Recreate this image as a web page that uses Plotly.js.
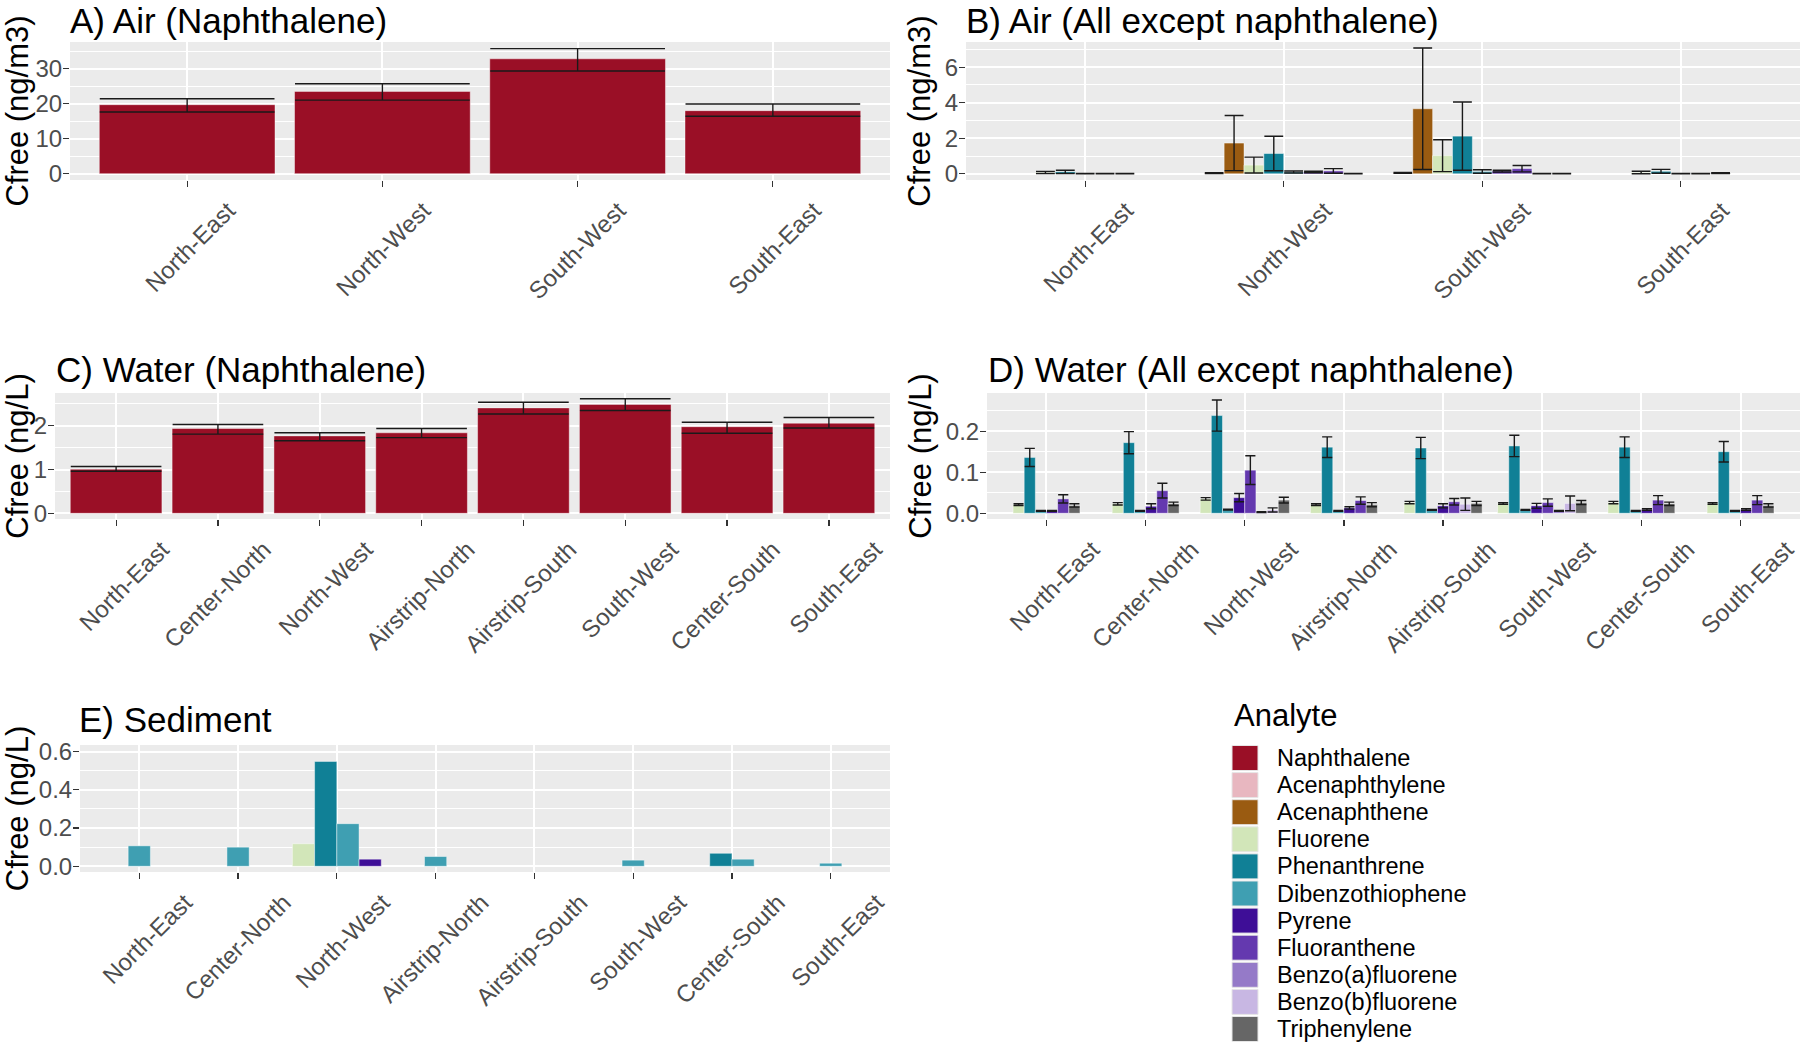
<!DOCTYPE html>
<html>
<head>
<meta charset="utf-8">
<script src="https://cdn.plot.ly/plotly-3.0.1.min.js"></script>
<style>html,body{margin:0;padding:0;background:#fff}#chart{width:1800px;height:1042px}</style>
</head>
<body>
<div id="chart"></div>
<script>
// ---------------- DATA ----------------
const analytes = ["Naphthalene","Acenaphthylene","Acenaphthene","Fluorene","Phenanthrene","Dibenzothiophene","Pyrene","Fluoranthene","Benzo(a)fluorene","Benzo(b)fluorene","Triphenylene"];
const analyteColors = ["#9A0F26","#E8B7C0","#9A5B11","#D2E6B9","#108096","#3F9FB2","#3E0E97","#6439AF","#957AC8","#C8B7E3","#666666"];

const airSites = ["North-East","North-West","South-West","South-East"];
const waterSites = ["North-East","Center-North","North-West","Airstrip-North","Airstrip-South","South-West","Center-South","South-East"];

// A) Air, naphthalene (ng/m3)
const airNaphthalene      = [19.7, 23.5, 32.8, 18.0];
const airNaphthaleneUp    = [1.7, 2.2, 2.9, 1.9];
const airNaphthaleneDown  = [2.1, 2.5, 3.5, 1.6];

// B) Air, all except naphthalene (ng/m3); null = not present
const airAcenaphthylene      = [null, 0.04, 0.05, null];
const airAcenaphthyleneErr   = [null, 0.02, 0.02, null];
const airAcenaphthene        = [null, 1.73, 3.66, null];
const airAcenaphtheneErr     = [null, 1.55, 3.42, null];
const airFluorene            = [0.07, 0.49, 1.02, 0.07];
const airFluoreneErr         = [0.06, 0.45, 0.90, 0.07];
const airPhenanthrene        = [0.11, 1.14, 2.12, 0.14];
const airPhenanthreneErr     = [0.09, 0.97, 1.92, 0.11];
const airDibenzothiophene    = [0.01, 0.10, 0.13, 0.01];
const airDibenzothiopheneErr = [0.01, 0.06, 0.10, 0.01];
const airPyrene              = [0.01, 0.10, 0.15, 0.01];
const airPyreneErr           = [0.005, 0.04, 0.05, 0.005];
const airFluoranthene        = [null, 0.16, 0.29, null];
const airFluorantheneErr     = [null, 0.13, 0.18, null];
const airBenzoAFluorene      = [null, null, 0.01, null];
const airBenzoAFluoreneErr   = [null, null, 0.005, null];
const airTriphenylene        = [0.01, 0.01, 0.01, 0.04];
const airTriphenyleneErr     = [0.005, 0.005, 0.005, 0.02];

// C) Water, naphthalene (ng/L)
const waterNaphthalene     = [1.01, 1.94, 1.77, 1.84, 2.41, 2.49, 1.98, 2.06];
const waterNaphthaleneUp   = [0.06, 0.09, 0.07, 0.10, 0.13, 0.13, 0.10, 0.13];
const waterNaphthaleneDown = [0.05, 0.13, 0.11, 0.11, 0.14, 0.14, 0.15, 0.11];

// D) Water, all except naphthalene (ng/L)
const waterFluorene            = [0.021, 0.023, 0.035, 0.021, 0.026, 0.024, 0.026, 0.024];
const waterFluoreneErr         = [0.002, 0.003, 0.003, 0.002, 0.003, 0.002, 0.003, 0.002];
const waterPhenanthrene        = [0.136, 0.172, 0.238, 0.161, 0.159, 0.164, 0.161, 0.150];
const waterPhenanthreneErr     = [0.022, 0.027, 0.038, 0.025, 0.026, 0.026, 0.025, 0.025];
const waterDibenzothiophene    = [0.006, 0.006, 0.009, 0.006, 0.008, 0.008, 0.006, 0.006];
const waterDibenzothiopheneErr = [0.001, 0.001, 0.001, 0.001, 0.001, 0.001, 0.001, 0.001];
const waterPyrene              = [0.006, 0.017, 0.038, 0.013, 0.018, 0.018, 0.009, 0.009];
const waterPyreneErr           = [0.001, 0.006, 0.010, 0.003, 0.005, 0.006, 0.002, 0.002];
const waterFluoranthene        = [0.035, 0.055, 0.105, 0.031, 0.028, 0.026, 0.032, 0.032];
const waterFluorantheneErr     = [0.010, 0.018, 0.035, 0.009, 0.008, 0.009, 0.011, 0.011];
const waterBenzoAFluorene      = [null, null, 0.003, null, null, 0.006, null, null];
const waterBenzoAFluoreneErr   = [null, null, 0.001, null, null, 0.001, null, null];
const waterBenzoBFluorene      = [null, null, 0.008, null, 0.022, 0.024, null, null];
const waterBenzoBFluoreneErr   = [null, null, 0.005, null, 0.015, 0.018, null, null];
const waterTriphenylene        = [0.019, 0.023, 0.032, 0.021, 0.024, 0.026, 0.023, 0.019];
const waterTriphenyleneErr     = [0.004, 0.004, 0.007, 0.005, 0.005, 0.005, 0.004, 0.004];

// E) Sediment (ng/L)
const sedFluorene         = [null, null, 0.118, null, null, null, null, null];
const sedPhenanthrene     = [null, null, 0.549, null, null, null, 0.068, null];
const sedDibenzothiophene = [0.107, 0.100, 0.223, 0.051, null, 0.032, 0.037, 0.016];
const sedPyrene           = [null, null, 0.037, null, null, null, null, null];

// ---------------- LAYOUT HELPERS ----------------
const W = 1800, H = 1042;
const FONT = '"Liberation Sans", Arial, Helvetica, sans-serif';
const TICKGREY = '#4D4D4D';

// panel boxes in px: [left, top, right, bottom]
const boxes = {
  A: [70, 42, 890, 180],
  B: [966, 42, 1800, 180],
  C: [55, 393, 890, 519],
  D: [987, 393, 1800, 519],
  E: [80, 745, 890, 872]
};
function dom(b) { return { x: [b[0] / W, b[2] / W], y: [1 - b[3] / H, 1 - b[1] / H] }; }

function colorOf(name) { return analyteColors[analytes.indexOf(name)]; }

function dodged(cats, seriesList, xa, ya, box) {
  const present = seriesList.filter(s => s.values.some(v => v !== null));
  const counts = cats.map((_, i) => present.filter(s => s.values[i] !== null).length);
  const maxN = Math.max(...counts);
  const w = 0.9 / maxN;
  const pxPerCat = (box[2] - box[0]) / (cats.length + 0.2);
  const used = cats.map(() => 0);
  return present.map(s => {
    const offs = s.values.map((v, i) => {
      if (v === null) return 0;
      const o = -counts[i] * w / 2 + used[i] * w;
      used[i]++;
      return o;
    });
    const tr = {
      type: 'bar', name: s.name, x: cats, y: s.values,
      offset: offs, width: w, xaxis: xa, yaxis: ya,
      marker: { color: colorOf(s.name), line: { color: 'rgba(255,255,255,0.55)', width: 0.8 } },
      showlegend: false, hoverinfo: 'skip'
    };
    if (s.up) {
      tr.error_y = {
        type: 'data', symmetric: false, array: s.up, arrayminus: s.down || s.up,
        color: '#1a1a1a', thickness: 1.4, width: Math.max(2, w * pxPerCat / 2 - 0.5)
      };
    }
    return tr;
  });
}

function xAxis(box, cats, anchor, shift) {
  return {
    domain: dom(box).x, anchor: anchor, type: 'category',
    categoryorder: 'array', categoryarray: cats,
    range: [-0.6, cats.length - 0.4],
    showgrid: true, gridcolor: '#FFFFFF', gridwidth: 2,
    ticks: 'outside', ticklen: 6, tickwidth: 1.2, tickcolor: '#333333',
    tickangle: -45, ticklabelshift: shift,
    tickfont: { family: FONT, size: 24, color: TICKGREY },
    showline: false, zeroline: false, fixedrange: true
  };
}
function yAxis(box, anchor, range, dtick, minorDtick, fmt, title, standoff) {
  return {
    domain: dom(box).y, anchor: anchor, range: range,
    tick0: 0, dtick: dtick, tickformat: fmt,
    showgrid: true, gridcolor: '#FFFFFF', gridwidth: 2,
    minor: { dtick: minorDtick, tick0: 0, showgrid: true, gridcolor: '#FFFFFF', gridwidth: 1, ticks: '' },
    ticks: 'outside', ticklen: 6, tickwidth: 1.2, tickcolor: '#333333',
    ticklabelstandoff: -4,
    tickfont: { family: FONT, size: 24, color: TICKGREY },
    title: { text: title, font: { family: FONT, size: 31, color: '#000' }, standoff: standoff },
    showline: false, zeroline: false, fixedrange: true
  };
}

// ---------------- TRACES ----------------
const traces = [];
traces.push(...dodged(airSites, [
  { name: 'Naphthalene', values: airNaphthalene, up: airNaphthaleneUp, down: airNaphthaleneDown }
], 'x', 'y', boxes.A));

traces.push(...dodged(airSites, [
  { name: 'Acenaphthylene', values: airAcenaphthylene, up: airAcenaphthyleneErr },
  { name: 'Acenaphthene', values: airAcenaphthene, up: airAcenaphtheneErr },
  { name: 'Fluorene', values: airFluorene, up: airFluoreneErr },
  { name: 'Phenanthrene', values: airPhenanthrene, up: airPhenanthreneErr },
  { name: 'Dibenzothiophene', values: airDibenzothiophene, up: airDibenzothiopheneErr },
  { name: 'Pyrene', values: airPyrene, up: airPyreneErr },
  { name: 'Fluoranthene', values: airFluoranthene, up: airFluorantheneErr },
  { name: 'Benzo(a)fluorene', values: airBenzoAFluorene, up: airBenzoAFluoreneErr },
  { name: 'Triphenylene', values: airTriphenylene, up: airTriphenyleneErr }
], 'x2', 'y2', boxes.B));

traces.push(...dodged(waterSites, [
  { name: 'Naphthalene', values: waterNaphthalene, up: waterNaphthaleneUp, down: waterNaphthaleneDown }
], 'x3', 'y3', boxes.C));

traces.push(...dodged(waterSites, [
  { name: 'Fluorene', values: waterFluorene, up: waterFluoreneErr },
  { name: 'Phenanthrene', values: waterPhenanthrene, up: waterPhenanthreneErr },
  { name: 'Dibenzothiophene', values: waterDibenzothiophene, up: waterDibenzothiopheneErr },
  { name: 'Pyrene', values: waterPyrene, up: waterPyreneErr },
  { name: 'Fluoranthene', values: waterFluoranthene, up: waterFluorantheneErr },
  { name: 'Benzo(a)fluorene', values: waterBenzoAFluorene, up: waterBenzoAFluoreneErr },
  { name: 'Benzo(b)fluorene', values: waterBenzoBFluorene, up: waterBenzoBFluoreneErr },
  { name: 'Triphenylene', values: waterTriphenylene, up: waterTriphenyleneErr }
], 'x4', 'y4', boxes.D));

traces.push(...dodged(waterSites, [
  { name: 'Fluorene', values: sedFluorene },
  { name: 'Phenanthrene', values: sedPhenanthrene },
  { name: 'Dibenzothiophene', values: sedDibenzothiophene },
  { name: 'Pyrene', values: sedPyrene }
], 'x5', 'y5', boxes.E));

// ---------------- TITLES & LEGEND ----------------
function panelTitle(text, left, topPx) {
  return {
    text: text, xref: 'paper', yref: 'paper', x: left / W, y: 1 - topPx / H,
    xanchor: 'left', yanchor: 'top', showarrow: false, borderpad: 0,
    font: { family: FONT, size: 35, color: '#000' }
  };
}
const annotations = [
  panelTitle('A) Air (Naphthalene)', boxes.A[0] - 1, 0),
  panelTitle('B) Air (All except naphthalene)', boxes.B[0] - 1, 0),
  panelTitle('C) Water (Naphthalene)', boxes.C[0], 349),
  panelTitle('D) Water (All except naphthalene)', boxes.D[0], 349),
  panelTitle('E) Sediment', 78, 699)
];
const shapes = [];

// legend (keys built from analytes / analyteColors)
const LEG = { keyL: 1232, keyR: 1258, textL: 1275, firstY: 758, step: 27.1, key: 25 };
annotations.push({
  text: 'Analyte', xref: 'paper', yref: 'paper', x: LEG.keyL / W, y: 1 - 715 / H,
  xanchor: 'left', yanchor: 'middle', showarrow: false,
  font: { family: FONT, size: 31, color: '#000' }
});
analytes.forEach((name, i) => {
  const cy = LEG.firstY + i * LEG.step;
  shapes.push({
    type: 'rect', xref: 'paper', yref: 'paper',
    x0: LEG.keyL / W, x1: LEG.keyR / W,
    y0: 1 - (cy + LEG.key / 2) / H, y1: 1 - (cy - LEG.key / 2) / H,
    fillcolor: analyteColors[i], line: { color: '#E6E6E6', width: 1 }
  });
  annotations.push({
    text: name, xref: 'paper', yref: 'paper', x: LEG.textL / W, y: 1 - cy / H,
    xanchor: 'left', yanchor: 'middle', showarrow: false,
    font: { family: FONT, size: 23.5, color: '#000' }
  });
});

// ---------------- LAYOUT ----------------
const layout = {
  width: W, height: H,
  margin: { l: 0, r: 0, t: 0, b: 0 },
  paper_bgcolor: '#FFFFFF',
  plot_bgcolor: '#EBEBEB',
  barmode: 'overlay',
  showlegend: false,
  font: { family: FONT, color: '#000' },
  xaxis:  xAxis(boxes.A, airSites, 'y', 41),
  yaxis:  yAxis(boxes.A, 'x', [-1.8, 37.6], 10, 5, '', 'Cfree (ng/m3)', 4),
  xaxis2: xAxis(boxes.B, airSites, 'y2', 41),
  yaxis2: yAxis(boxes.B, 'x2', [-0.35, 7.42], 2, 1, '', 'Cfree (ng/m3)', 4),
  xaxis3: xAxis(boxes.C, waterSites, 'y3', 46),
  yaxis3: yAxis(boxes.C, 'x3', [-0.13, 2.75], 1, 0.5, '', 'Cfree (ng/L)', 10),
  xaxis4: xAxis(boxes.D, waterSites, 'y4', 46),
  yaxis4: yAxis(boxes.D, 'x4', [-0.014, 0.293], 0.1, 0.05, '.1f', 'Cfree (ng/L)', 4),
  xaxis5: xAxis(boxes.E, waterSites, 'y5', 46),
  yaxis5: yAxis(boxes.E, 'x5', [-0.03, 0.635], 0.2, 0.1, '.1f', 'Cfree (ng/L)', 4),
  annotations: annotations,
  shapes: shapes
};

Plotly.newPlot('chart', traces, layout, { displayModeBar: false, staticPlot: true });
</script>
</body>
</html>
